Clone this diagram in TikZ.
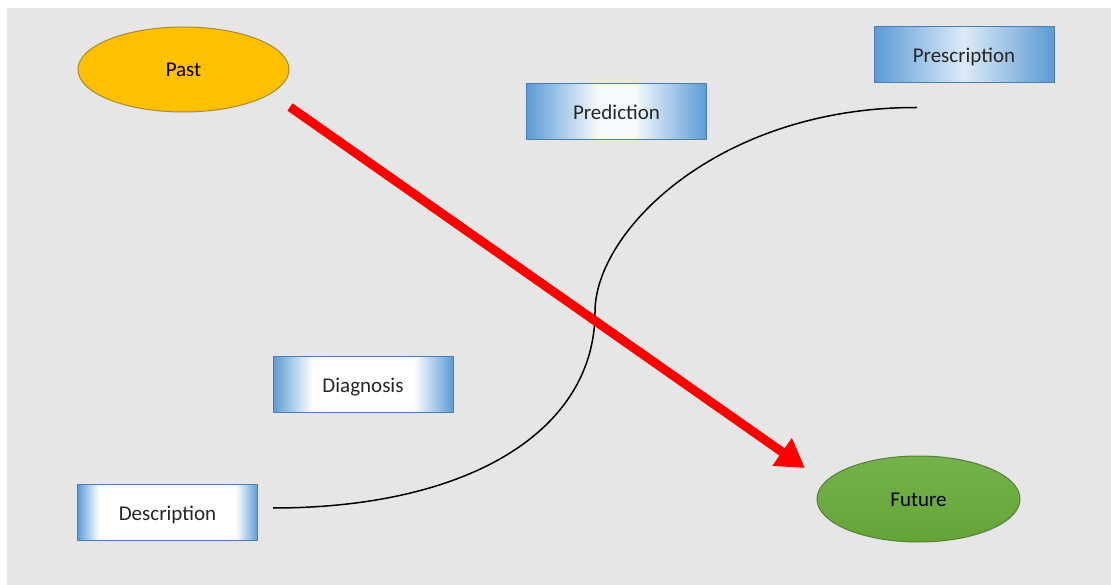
\documentclass[tikz,border=0pt]{standalone}
\usepackage{fontspec}
\setmainfont{Carlito}
\usetikzlibrary{shapes.geometric,arrows.meta,calc}

\definecolor{slide}{HTML}{E7E6E6}
\definecolor{boxblue}{HTML}{5B9BD5}
\definecolor{boxline}{HTML}{4A7EBB}
\definecolor{boxpale}{HTML}{DCEAF8}
\definecolor{pastfill}{HTML}{FFC000}
\definecolor{pastline}{HTML}{A98A2E}
\definecolor{futtop}{HTML}{74B34A}
\definecolor{futbot}{HTML}{64A437}
\definecolor{futline}{HTML}{557F3A}
\definecolor{arrowred}{HTML}{FF0000}
\definecolor{labeltext}{HTML}{262626}

% Horizontal fills for the four stage boxes, from mostly blue to mostly white
\pgfdeclarehorizontalshading{fillA}{100bp}{color(0bp)=(boxblue); color(25bp)=(boxblue); color(50bp)=(boxpale); color(75bp)=(boxblue); color(100bp)=(boxblue)}
\pgfdeclarehorizontalshading{fillB}{100bp}{color(0bp)=(boxblue); color(25bp)=(boxblue); color(45bp)=(white!95!boxblue); color(55bp)=(white!95!boxblue); color(75bp)=(boxblue); color(100bp)=(boxblue)}
\pgfdeclarehorizontalshading{fillC}{100bp}{color(0bp)=(boxblue); color(25bp)=(boxblue); color(36bp)=(white); color(64bp)=(white); color(75bp)=(boxblue); color(100bp)=(boxblue)}
\pgfdeclarehorizontalshading{fillD}{100bp}{color(0bp)=(boxblue); color(25bp)=(boxblue); color(31bp)=(white); color(69bp)=(white); color(75bp)=(boxblue); color(100bp)=(boxblue)}

\tikzset{
  label font/.style={font=\fontsize{21}{25}\selectfont, text height=16.5pt, text depth=1.5pt},
  stagebox/.style={rectangle, draw=boxline, line width=1pt, minimum width=180pt,
    minimum height=56pt, inner sep=0pt, text=labeltext, label font},
  timeoval/.style={ellipse, line width=1pt, inner sep=0pt, text=black, label font},
  timeline/.style={draw=arrowred, line width=9pt, line cap=butt,
    -{Triangle[length=28pt,width=32pt]}},
  pathcurve/.style={draw=black, line width=1.5pt}
}

\begin{document}
\begin{tikzpicture}[x=1pt,y=-1pt]
  \useasboundingbox (0,0) rectangle (1111,585);
  \fill[white] (0,0) rectangle (1111,585);
  \fill[slide] (7,8) rectangle (1111,585);

  % Stages of analytics
  \node[stagebox, shading=fillA] (prescription) at (964,55) {Prescription};
  \node[stagebox, shading=fillB] (prediction) at (616.5,112) {Prediction};
  \node[stagebox, shading=fillC] (diagnosis) at (363,384.5) {Diagnosis};
  \node[stagebox, shading=fillD] (description) at (167.5,512.5) {Description};

  % Time ovals
  \node[timeoval, fill=pastfill, draw=pastline, minimum width=211pt, minimum height=85pt]
    (past) at (183.5,69.5) {Past};
  \node[timeoval, top color=futtop, bottom color=futbot, draw=futline,
    minimum width=203pt, minimum height=86pt] (future) at (918.5,499) {Future};

  % S-curve from Description up to Prescription
  \coordinate (curvestart) at ($(description.east)+(15,-4.5)$);
  \coordinate (curvemid) at (595,312);
  \coordinate (curveend) at ($(prescription.south)+(-47,24)$);
  \draw[pathcurve] (curvestart) .. controls (470,508) and (595,430) .. (curvemid)
    .. controls (595,230) and (720,107) .. (curveend);

  % Red arrow from the past towards the future
  \coordinate (arrowstart) at (290,107);
  \coordinate (arrowend) at (805,468);
  \draw[timeline] (arrowstart) -- (arrowend);
\end{tikzpicture}
\end{document}
